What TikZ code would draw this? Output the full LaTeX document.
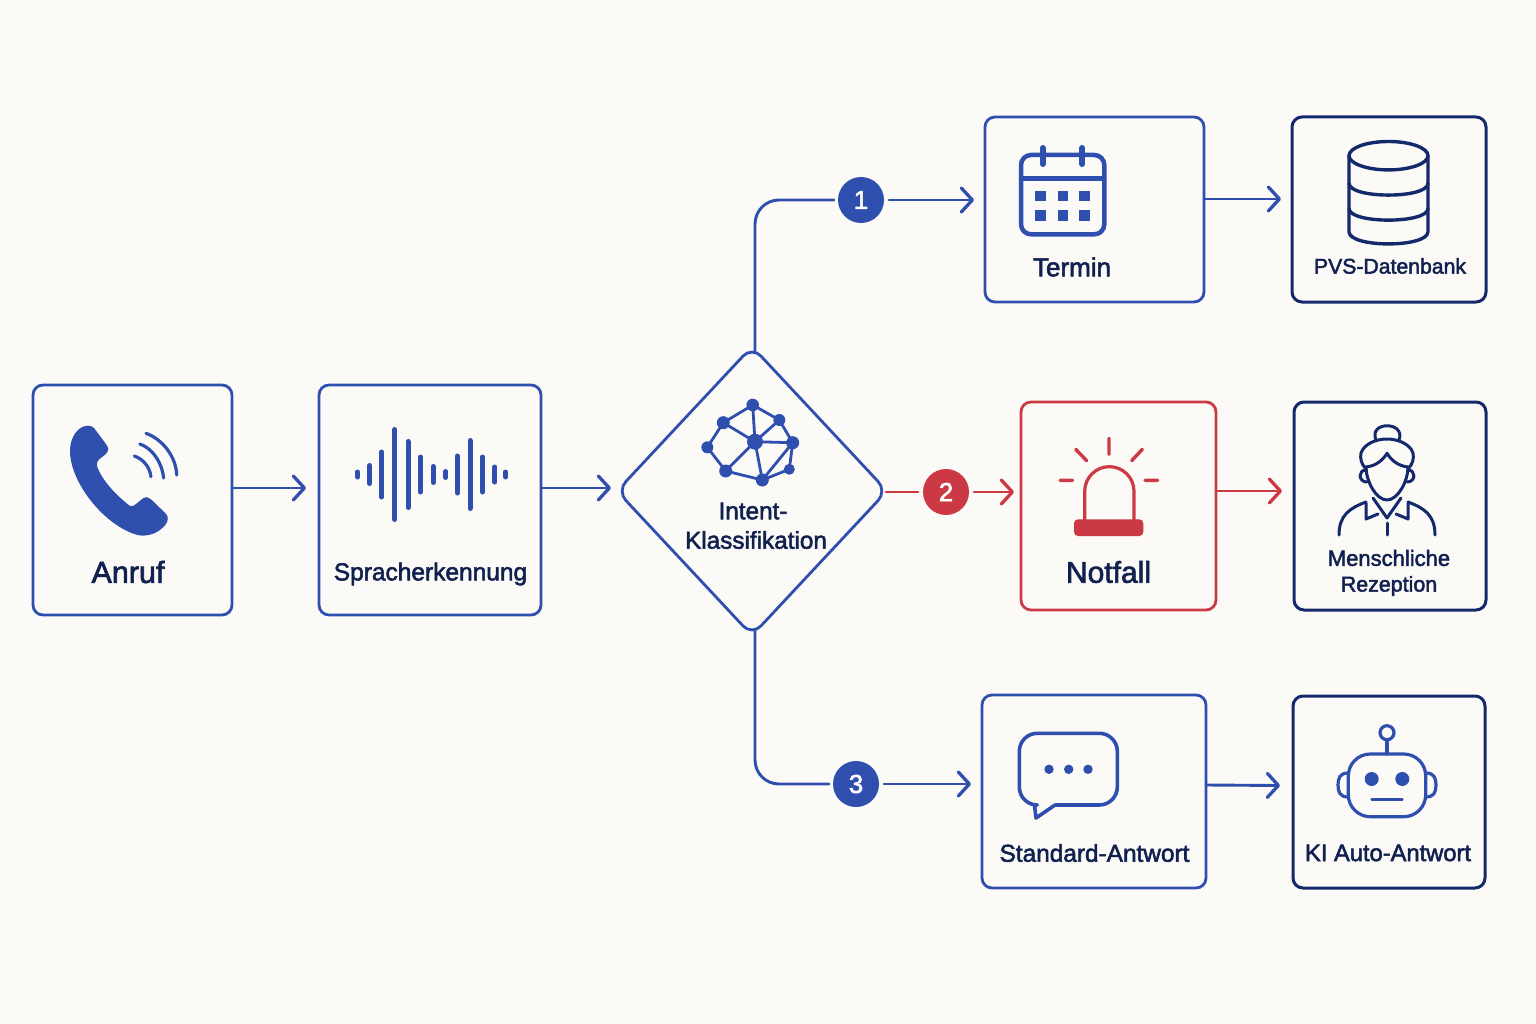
\documentclass[tikz,border=0pt]{standalone}
\usepackage{fontspec}
\newfontfamily\labfont[FakeBold=2.2]{Liberation Sans}
\newfontfamily\numfont[FakeBold=2.2]{Liberation Sans}
\usetikzlibrary{arrows.meta,shapes.geometric}
\definecolor{bgc}{HTML}{FCFAF7}
\definecolor{bluec}{HTML}{2F4FAF}
\definecolor{navyc}{HTML}{14296B}
\definecolor{inkc}{HTML}{10204F}
\definecolor{redc}{HTML}{CB3A44}
\tikzset{
  boxb/.style={draw=bluec,line width=2.8pt,rounded corners=10pt,inner sep=0pt,outer sep=0pt},
  boxn/.style={draw=navyc,line width=3pt,rounded corners=10pt,inner sep=0pt,outer sep=0pt},
  boxr/.style={draw=redc,line width=2.8pt,rounded corners=10pt,inner sep=0pt,outer sep=0pt},
  lab/.style={font=\labfont\fontsize{#1}{#1}\selectfont,text=inkc,inner sep=0pt,outer sep=0pt},
  conn/.style={line width=2.9pt,line cap=round},
  arr/.style={conn,-{Straight Barb[length=11pt,width=24pt,line width=3.3pt,round]}},
  badge/.style={circle,minimum size=46pt,inner sep=0pt,outer sep=0pt,text=white,font=\numfont\fontsize{26}{26}\selectfont},
  ico/.style={line width=#1,line cap=round,line join=round},
}
\begin{document}
\begin{tikzpicture}[x=1pt,y=-1pt]
\useasboundingbox (0,0) rectangle (1536,1024);
\fill[bgc] (0,0) rectangle (1536,1024);

% boxes
\node[boxb,minimum width=199pt,minimum height=230pt] (anruf) at (132.5,500) {};
\node[boxb,minimum width=222pt,minimum height=230pt] (spr) at (430,500) {};
\node[diamond,draw=bluec,line width=2.8pt,rounded corners=13pt,minimum width=270pt,minimum height=289pt,inner sep=0pt,outer sep=0pt] (dia) at (752,491) {};
\node[boxb,minimum width=219pt,minimum height=185pt] (termin) at (1094.5,209.5) {};
\node[boxn,minimum width=194pt,minimum height=185pt] (pvs) at (1389,209.5) {};
\node[boxr,minimum width=195pt,minimum height=208pt] (notf) at (1118.5,506) {};
\node[boxn,minimum width=192pt,minimum height=208pt] (mens) at (1390,506) {};
\node[boxb,minimum width=224pt,minimum height=193pt] (std) at (1094,791.5) {};
\node[boxn,minimum width=192pt,minimum height=192pt] (ki) at (1389,792) {};

% badges
\node[badge,fill=bluec] (b1) at (861,200) {1};
\node[badge,fill=redc] (b2) at (946,492) {2};
\node[badge,fill=bluec] (b3) at (856,784) {3};

% connectors
\draw[arr,bluec] ([yshift=12pt]anruf.east) -- ([xshift=-13pt,yshift=12pt]spr.west);
\draw[arr,bluec] ([yshift=12pt]spr.east) -- ([xshift=-6pt,yshift=3pt]dia.west);
\draw[conn,bluec,rounded corners=24pt] ([xshift=3pt,yshift=-4.5pt]dia.north) |- ([xshift=-4pt]b1.west);
\draw[arr,bluec] ([xshift=5pt]b1.east) -- ([xshift=-11pt,yshift=9.5pt]termin.west);
\draw[arr,bluec] ([yshift=10.5pt]termin.east) -- ([xshift=-11pt,yshift=10.5pt]pvs.west);
\draw[conn,bluec,rounded corners=24pt] ([xshift=3pt,yshift=4.5pt]dia.south) |- ([xshift=-4pt]b3.west);
\draw[arr,bluec] ([xshift=5pt]b3.east) -- ([xshift=-11pt,yshift=7.5pt]std.west);
\draw[arr,bluec] ([yshift=6.5pt]std.east) -- ([xshift=-13pt,yshift=6.5pt]ki.west);
\draw[conn,redc] ([xshift=-1pt,yshift=-1pt]dia.east) -- ([xshift=-5pt]b2.west);
\draw[arr,redc] ([xshift=5pt]b2.east) -- ([xshift=-7pt,yshift=14pt]notf.west);
\draw[arr,redc] ([yshift=15pt]notf.east) -- ([xshift=-12pt,yshift=15pt]mens.west);

% labels
\node[lab=30.5] (tA) at (128,572) {Anruf};
\node[lab=24.5] (tS) at (430.5,574) {Spracherkennung};
\node[lab=24.3] (tI1) at (753,511) {Intent-};
\node[lab=24.3] (tI2) at (756,540) {Klassifikation};
\node[lab=26] (tT) at (1072,267) {Termin};
\node[lab=21.2] (tP) at (1390,266) {PVS-Datenbank};
\node[lab=30] (tN) at (1108.5,572) {Notfall};
\node[lab=22] (tM1) at (1389,558) {Menschliche};
\node[lab=21.4] (tM2) at (1389,586) {Rezeption};
\node[lab=24.4] (tSA) at (1094.5,853) {Standard-Antwort};
\node[lab=23.7] (tK) at (1388,853) {KI Auto-Antwort};

% phone icon
\fill[bluec] (70,450.9) .. controls (70,437.3) and (78,425.7) .. (88,425.7) .. controls (92,425.7) and (94,427.6) .. (96,430.6) -- (106,444.1)
  .. controls (110,449) and (108,451.8) .. (105,454.8) -- (100,458.6) .. controls (97,461.5) and (96,463.5) .. (97,466.4)
  .. controls (102,479.9) and (115,494.4) .. (130,506) .. controls (133,507) and (135,505.1) .. (137,503.2) -- (143,498.3)
  .. controls (146,496.4) and (149,497.3) .. (151,499.3) -- (166,513.8) .. controls (169,517.7) and (168,521.5) .. (165,525.4)
  .. controls (158,533.2) and (148,537) .. (138,535.1) .. controls (105,526.4) and (70,482.8) .. (70,450.9) -- cycle;
\draw[ico=3.2pt,bluec] (134.3,456) .. controls (143,459) and (150,467) .. (150.9,476.7);
\draw[ico=3.2pt,bluec] (139.8,444) .. controls (152,448) and (162,462) .. (163.6,478);
\draw[ico=3.2pt,bluec] (146,433.3) .. controls (162,439) and (176,456) .. (176.7,475);

% waveform icon
\foreach \x/\h in {357.5/2.5,369.5/9,381.6/22.5,394.6/45,408/33,420.5/17.5,433.2/8,445.6/3,457.3/18.5,470/34,482.5/17.5,494.9/7.5,505.5/2.5}
  \draw[ico=5pt,bluec] (\x,474.5-\h) -- (\x,474.5+\h);

% network icon
\coordinate (na) at (752.7,405); \coordinate (nb) at (723.3,422.7); \coordinate (nc) at (779.3,420);
\coordinate (nd) at (707.3,447.3); \coordinate (ne) at (755,441.7); \coordinate (nf) at (792.7,442.7);
\coordinate (ng) at (725.7,471); \coordinate (nh) at (789.3,469.3); \coordinate (ni) at (762.3,480);
\draw[ico=2.8pt,bluec] (na)--(nb) (na)--(nc) (na)--(ne) (nb)--(ne) (nb)--(nd) (nd)--(ng) (ng)--(ne) (ng)--(ni)
  (ne)--(ni) (ne)--(nc) (ne)--(nf) (nc)--(nf) (nf)--(nh) (nf)--(ni) (nh)--(ni);
\fill[bluec] (na) circle (6.3pt) (nb) circle (6.5pt) (nc) circle (6pt) (nd) circle (6pt) (ne) circle (8pt)
  (nf) circle (6.5pt) (ng) circle (6.5pt) (nh) circle (5.5pt) (ni) circle (6.5pt);

% calendar icon
\draw[ico=4.5pt,bluec,rounded corners=10pt] (1021,155) rectangle (1104.3,234.3);
\draw[ico=4.5pt,bluec] (1021,178.3) -- (1104.3,178.3);
\draw[ico=6pt,bluec] (1042.7,148) -- (1042.7,164) (1082.3,148) -- (1082.3,164);
\foreach \x in {1035,1057.5,1079.3} \foreach \y in {190.7,210.5}
  \fill[bluec] (\x,\y) rectangle (\x+10.8,\y+10.8);

% database icon
\draw[ico=3.4pt,navyc] (1388.5,155.7) ellipse (39.5pt and 14.2pt);
\draw[ico=3.4pt,navyc] (1349,155.7) -- (1349,231.7) .. controls (1349,248) and (1428,248) .. (1428,231.7) -- (1428,155.7);
\draw[ico=3.4pt,navyc] (1349,183.3) .. controls (1349,199) and (1428,199) .. (1428,183.3);
\draw[ico=3.4pt,navyc] (1349,208.5) .. controls (1349,224) and (1428,224) .. (1428,208.5);

% siren icon
\draw[ico=3.2pt,redc] (1084.7,520) -- (1084.7,491.3) arc[start angle=180,end angle=0,radius=24.65pt] -- (1134,520);
\fill[redc,rounded corners=4pt] (1074,536) -- (1074,519.3) -- (1143.3,519.3) -- (1143.3,536) -- cycle;
\draw[ico=3.4pt,redc] (1109,438.3) -- (1109,454.3) (1075.7,449.3) -- (1086.7,460.7) (1142.3,449.3) -- (1131.7,460.7)
  (1060,480.3) -- (1072.7,480.3) (1145,480.3) -- (1157.7,480.3);

% person icon
\draw[ico=3pt,navyc] (1376,440) .. controls (1368,421) and (1406,421) .. (1399,440);
\draw[ico=3pt,navyc] (1366,469) .. controls (1361,464) and (1360,458) .. (1361,453) .. controls (1364,444) and (1376,439) .. (1387,439) .. controls (1398,439) and (1410,444) .. (1413,453) .. controls (1414,458) and (1413,464) .. (1408,469);
\draw[ico=3pt,navyc] (1366,467) .. controls (1376,466) and (1383,460) .. (1387,453.3) .. controls (1391,460) and (1398,466) .. (1408,467);
\draw[ico=3pt,navyc] (1366,467) .. controls (1366,481) and (1376,500) .. (1387,500) .. controls (1398,500) and (1408,481) .. (1408,467);
\draw[ico=3pt,navyc] (1366,470) .. controls (1358,470) and (1358,482) .. (1367,482);
\draw[ico=3pt,navyc] (1408,470) .. controls (1416,470) and (1416,482) .. (1407,482);
\draw[ico=3pt,navyc] (1339,535) .. controls (1339,515) and (1350,508) .. (1366,502);
\draw[ico=3pt,navyc] (1435,535) .. controls (1435,515) and (1424,508) .. (1408,502);
\draw[ico=3pt,navyc] (1373,498) -- (1387,518) -- (1401,498);
\draw[ico=3pt,navyc] (1366,503) -- (1366,519) -- (1378,514);
\draw[ico=3pt,navyc] (1408,503) -- (1408,519) -- (1396,514);
\draw[ico=3pt,navyc] (1387,523) -- (1387,535);

% speech bubble icon
\draw[ico=3.6pt,bluec,rounded corners=18pt] (1040,733.3) -- (1117.3,733.3) -- (1117.3,805) -- (1055,805);
\draw[ico=3.6pt,bluec] (1055,805) -- (1036,818) -- (1034.5,805);
\draw[ico=3.6pt,bluec,rounded corners=18pt] (1034.5,805) -- (1019.3,805) -- (1019.3,733.3) -- (1040,733.3);
\fill[bluec] (1049,769.3) circle (4.7pt) (1068.7,769.3) circle (4.7pt) (1088,769.3) circle (4.7pt);

% robot icon
\draw[ico=3.2pt,bluec,rounded corners=22pt] (1348.3,754) rectangle (1425.7,816.7);
\draw[ico=3.2pt,bluec] (1387,754) -- (1387,740);
\draw[ico=3.2pt,bluec] (1387,732.7) circle (7pt);
\fill[bluec] (1371.7,779) circle (7pt) (1402.3,779) circle (7pt);
\draw[ico=2.8pt,bluec] (1371.7,799.3) -- (1402.3,799.3);
\draw[ico=3.2pt,bluec] (1348,773) .. controls (1340,773) and (1338,778) .. (1338,785) .. controls (1338,792) and (1340,797) .. (1348,797);
\draw[ico=3.2pt,bluec] (1426,773) .. controls (1434,773) and (1436,778) .. (1436,785) .. controls (1436,792) and (1434,797) .. (1426,797);
\end{tikzpicture}
\end{document}
